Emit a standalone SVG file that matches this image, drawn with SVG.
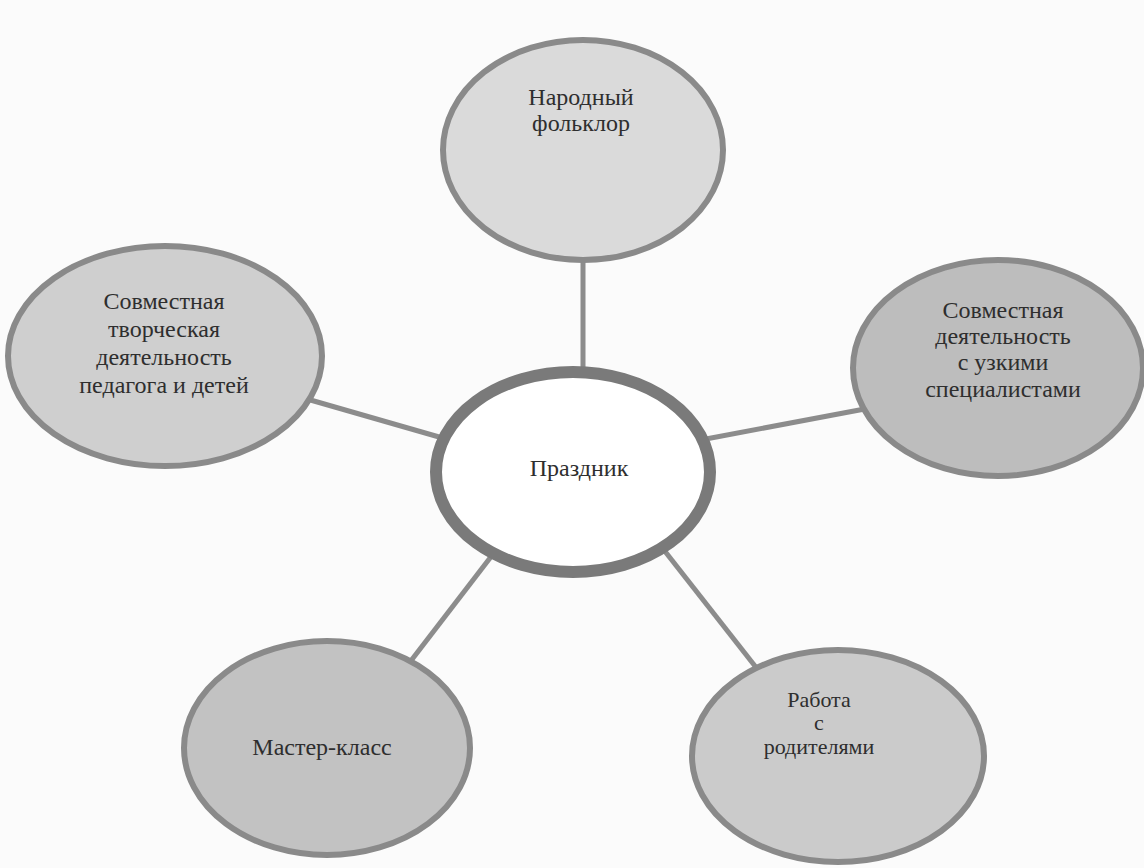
<svg xmlns="http://www.w3.org/2000/svg" width="1144" height="868" viewBox="0 0 1144 868">
<style>
.bg{fill:#fbfbfb}
.node{stroke:#8a8a8a;stroke-width:6}
.center{fill:#ffffff;stroke:#7a7a7a;stroke-width:12}
.lbl{font-family:'Liberation Serif','Times New Roman','DejaVu Serif',serif;font-size:24px;fill:#2e2e2e;text-anchor:middle}
.sm{font-size:22px}
.conn{stroke:#8c8c8c;stroke-width:5;fill:none}
</style>
<rect class="bg" x="0" y="0" width="1144" height="868"/>
<g id="connectors">
<line class="conn" x1="583" y1="240" x2="583" y2="400"/>
<line class="conn" x1="300" y1="397" x2="460" y2="443"/>
<line class="conn" x1="690" y1="442" x2="870" y2="408"/>
<line class="conn" x1="500" y1="545" x2="400" y2="675"/>
<line class="conn" x1="660" y1="545" x2="762" y2="675"/>
</g>
<g id="n-top">
<ellipse class="node" cx="583" cy="150" rx="140" ry="110" fill="#dadada"/>
<text class="lbl" x="581" y="105">Народный</text>
<text class="lbl" x="581" y="131">фольклор</text>
</g>
<g id="n-left">
<ellipse class="node" cx="165" cy="356" rx="157" ry="110" fill="#cfcfcf"/>
<text class="lbl" x="164" y="309">Совместная</text>
<text class="lbl" x="164" y="337">творческая</text>
<text class="lbl" x="164" y="365">деятельность</text>
<text class="lbl" x="164" y="393">педагога и детей</text>
</g>
<g id="n-right">
<ellipse class="node" cx="998" cy="368" rx="145" ry="108" fill="#bdbdbd"/>
<text class="lbl" x="1003" y="318">Совместная</text>
<text class="lbl" x="1003" y="344">деятельность</text>
<text class="lbl" x="1003" y="370">с узкими</text>
<text class="lbl" x="1003" y="397">специалистами</text>
</g>
<g id="n-center">
<ellipse class="center" cx="573" cy="472" rx="137" ry="100"/>
<text class="lbl" x="579" y="476">Праздник</text>
</g>
<g id="n-bottom-left">
<ellipse class="node" cx="327" cy="748" rx="143" ry="107" fill="#c2c2c2"/>
<text class="lbl" x="322" y="755">Мастер-класс</text>
</g>
<g id="n-bottom-right">
<ellipse class="node" cx="838" cy="756" rx="146" ry="106" fill="#cbcbcb"/>
<text class="lbl sm" x="819" y="707">Работа</text>
<text class="lbl sm" x="819" y="730">с</text>
<text class="lbl sm" x="819" y="754">родителями</text>
</g>
</svg>
